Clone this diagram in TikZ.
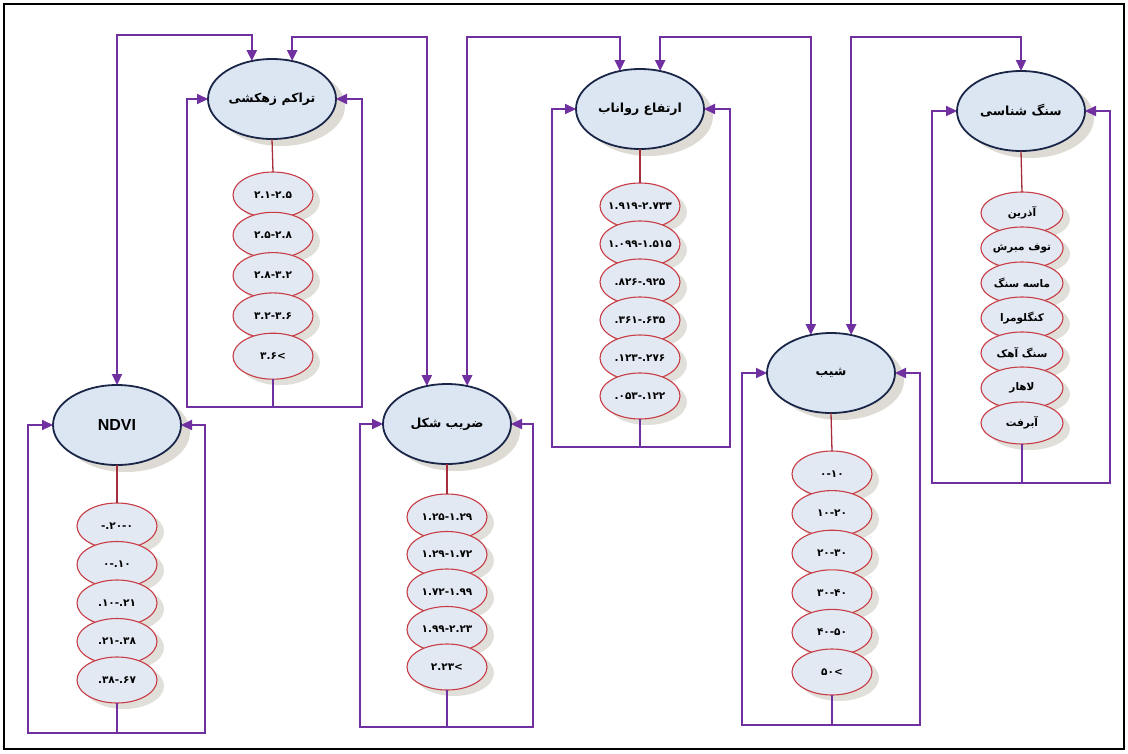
\documentclass[tikz,border=0pt]{standalone}
\usepackage{fontspec}
\usetikzlibrary{arrows.meta,shapes.geometric,shadows,calc}
\newfontfamily\fa[Script=Arabic]{DejaVu Sans}
\newfontfamily\fanum{DejaVu Sans}
\newfontfamily\lat{Liberation Sans}
\TeXXeTstate=1
\makeatletter
\def\ltrchars#1{\makebox[0pt]{\@tfor\ch:=#1\do{\hbox{\ch}}}}
\makeatother
\definecolor{purp}{RGB}{112,48,160}
\definecolor{navy}{RGB}{26,38,72}
\definecolor{mainfill}{RGB}{220,230,243}
\definecolor{subfill}{RGB}{226,233,243}
\definecolor{subred}{RGB}{200,60,70}
\definecolor{stemred}{RGB}{165,45,60}
\definecolor{shadowc}{RGB}{190,185,172}
\tikzset{
  mainell/.style={ellipse, draw=navy, line width=1.8pt, fill=mainfill,
    minimum width=128pt, minimum height=80pt, inner sep=0pt, outer sep=0pt,
    drop shadow={shadow xshift=9pt, shadow yshift=-7pt, fill=shadowc, opacity=0.5},
    font=\fa\bfseries\fontsize{12.5}{15}\selectfont},
  subell/.style={ellipse, draw=subred, line width=1.1pt, fill=subfill,
    minimum width=80pt, minimum height=46pt, inner sep=0pt, outer sep=0pt,
    drop shadow={shadow xshift=7pt, shadow yshift=-6pt, fill=shadowc, opacity=0.45},
    font=\fa\bfseries\fontsize{10.5}{12}\selectfont},
  numell/.style={subell, font=\fanum\bfseries\fontsize{10.5}{12}\selectfont},
  stemline/.style={draw=stemred, line width=1.3pt},
  pline/.style={draw=purp, line width=2.2pt},
  parr/.style={pline, -{Triangle[length=11pt,width=10pt]}},
  pboth/.style={pline, {Triangle[length=11pt,width=10pt]}-{Triangle[length=11pt,width=10pt]}},
}
\begin{document}
\begin{tikzpicture}[x=1pt,y=-1pt]
\useasboundingbox (0,0) rectangle (1128,753);
\fill[white] (0,0) rectangle (1128,753);
\draw[line width=1.5pt, black] (4,4) rectangle (1124,749);

% main nodes
\node[mainell] (T) at (272,99) {\beginR تراکم زهکشی\endR};
\node[mainell, font=\lat\bfseries\fontsize{16}{18}\selectfont] (N) at (117,425) {NDVI};
\node[mainell] (Z) at (447,424) {\beginR ضریب شکل\endR};
\node[mainell] (E) at (640,109) {\beginR ارتفاع رواناب\endR};
\node[mainell] (S) at (831,373) {\beginR شیب\endR};
\node[mainell] (G) at (1021,111) {\beginR سنگ شناسی\endR};

% sub nodes
\foreach \t [count=\i] in {۲.۱-۲.۵,۲.۵-۲.۸,۲.۸-۳.۲,۳.۲-۳.۶,۳.۶<}
  \node[numell] (T\i) at (273,{195+40.3*(\i-1)}) {\expandafter\ltrchars\expandafter{\t}};
\foreach \t [count=\i] in {-.۲۰-۰,۰-.۱۰,.۱۰-.۲۱,.۲۱-.۳۸,.۳۸-.۶۷}
  \node[numell] (N\i) at (117,{526+38.5*(\i-1)}) {\expandafter\ltrchars\expandafter{\t}};
\foreach \t [count=\i] in {۱.۲۵-۱.۲۹,۱.۲۹-۱.۷۲,۱.۷۲-۱.۹۹,۱.۹۹-۲.۲۳,۲.۲۳<}
  \node[numell] (Z\i) at (447,{517+37.5*(\i-1)}) {\expandafter\ltrchars\expandafter{\t}};
\foreach \t [count=\i] in {۱.۹۱۹-۲.۷۳۳,۱.۰۹۹-۱.۵۱۵,.۸۲۶-.۹۲۵,.۳۶۱-.۶۳۵,.۱۲۳-.۲۷۶,.۰۵۳-.۱۲۲}
  \node[numell] (E\i) at (640,{206+38*(\i-1)}) {\expandafter\ltrchars\expandafter{\t}};
\foreach \t [count=\i] in {۰-۱۰,۱۰-۲۰,۲۰-۳۰,۳۰-۴۰,۴۰-۵۰,۵۰<}
  \node[numell] (S\i) at (832,{474+39.6*(\i-1)}) {\expandafter\ltrchars\expandafter{\t}};
\foreach \t [count=\i] in {آذرین,توف مبرش,ماسه سنگ,کنگلومرا,سنگ آهک,لاهار,آبرفت}
  \node[subell, minimum height=42pt, minimum width=82pt] (G\i) at (1022,{213+35*(\i-1)}) {\beginR\t\endR};

% stems from main to first sub
\draw[stemline] (T.south) -- (T1.north);
\draw[stemline] (N.south) -- (N1.north);
\draw[stemline] (Z.south) -- (Z1.north);
\draw[stemline] (E.south) -- (E1.north);
\draw[stemline] (S.south) -- (S1.north);
\draw[stemline] (G.south) -- (G1.north);

% feedback loops of each cluster
\coordinate (Tb) at (273,407); \coordinate (Tbl) at (187,407); \coordinate (Tbr) at (362,407);
\coordinate (Nb) at (117,733); \coordinate (Nbl) at (28,733); \coordinate (Nbr) at (205,733);
\coordinate (Zb) at (447,727); \coordinate (Zbl) at (360,727); \coordinate (Zbr) at (533,727);
\coordinate (Eb) at (640,447); \coordinate (Ebl) at (552,447); \coordinate (Ebr) at (730,447);
\coordinate (Sb) at (832,725); \coordinate (Sbl) at (742,725); \coordinate (Sbr) at (920,725);
\coordinate (Gb) at (1022,483); \coordinate (Gbl) at (932,483); \coordinate (Gbr) at (1110,483);
\foreach \c/\n in {T/5,N/5,Z/5,E/6,S/6,G/7}{
  \draw[pline] (\c\n.south) -- (\c b);
  \draw[parr] (\c b) -- (\c bl) |- (\c.west);
  \draw[parr] (\c b) -- (\c br) |- (\c.east);
}

% links between the clusters
\coordinate (ta) at (0,35);
\coordinate (tb) at (0,37);
\draw[pboth] (N.north) -- (N.north |- ta) -- (T.118 |- ta) -- (T.118);
\draw[pboth] (T.62) -- (T.62 |- tb) -- (Z.118 |- tb) -- (Z.118);
\draw[pboth] (Z.62) -- (Z.62 |- tb) -- (E.118 |- tb) -- (E.118);
\draw[pboth] (E.62) -- (E.62 |- tb) -- (S.118 |- tb) -- (S.118);
\draw[pboth] (S.62) -- (S.62 |- tb) -- (G.north |- tb) -- (G.north);
\end{tikzpicture}
\end{document}
